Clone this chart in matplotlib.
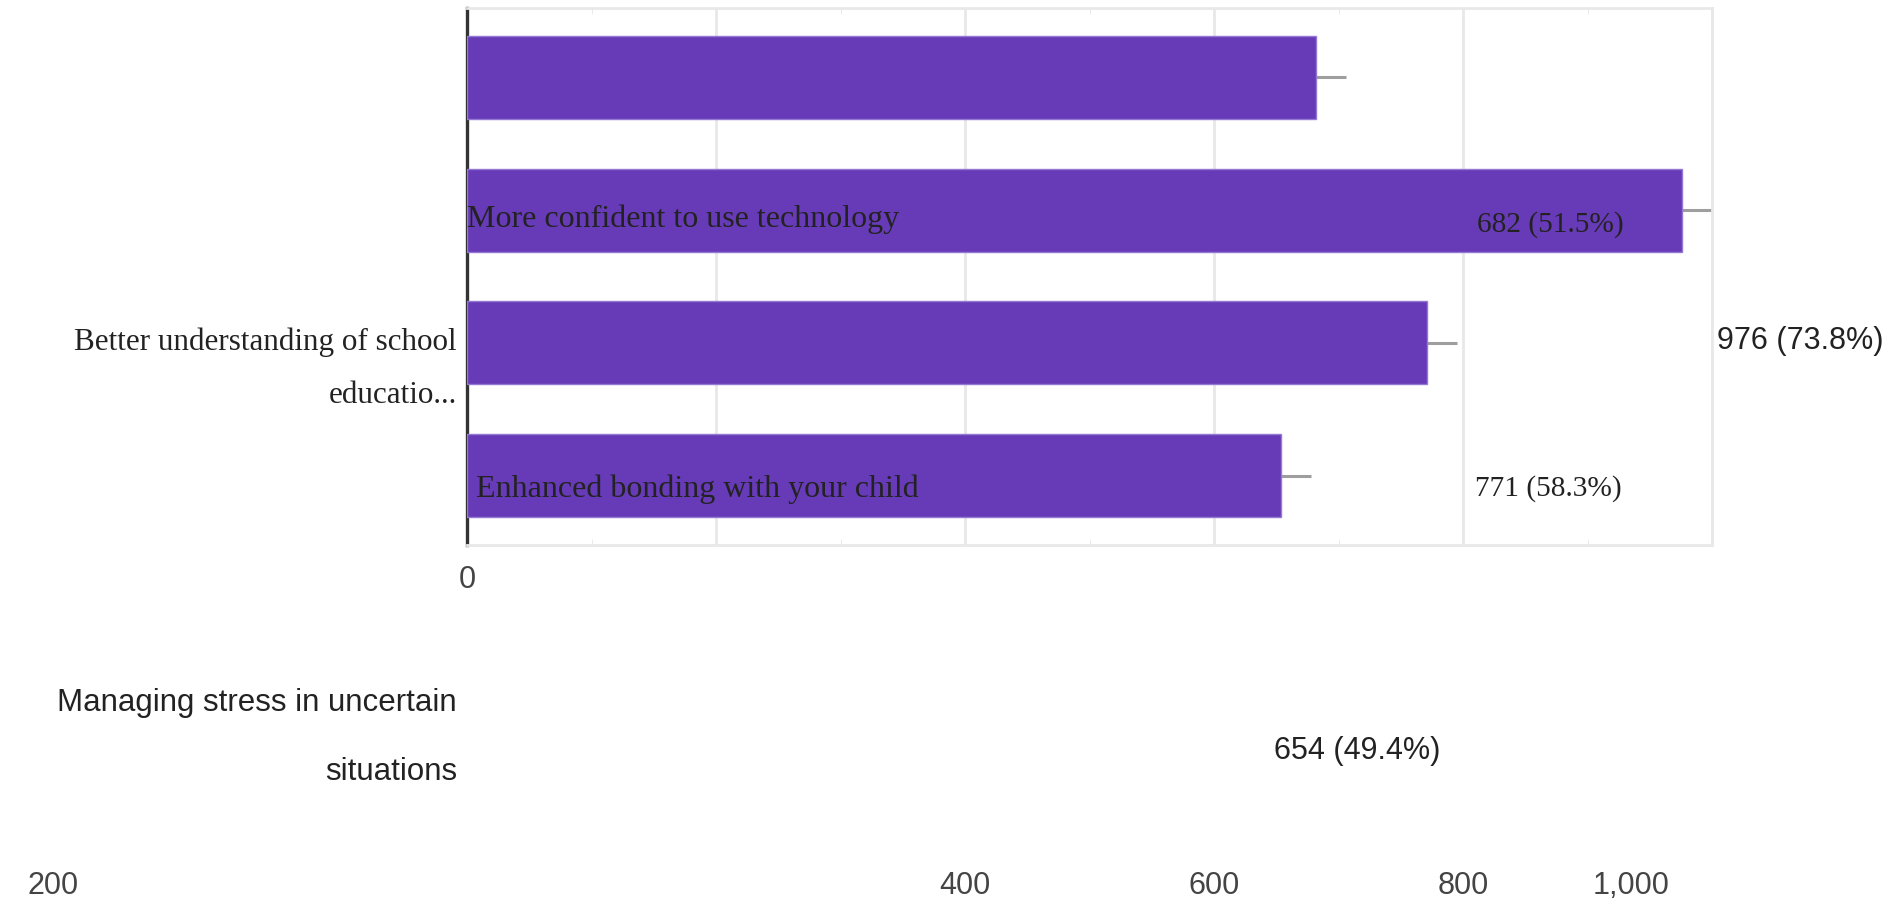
import matplotlib.pyplot as plt
import numpy as np

# Daten (von oben nach unten)
categories = ['More confident to use technology',
              'Better understanding of school\neducatio...',
              'Enhanced bonding with your child',
              'Managing stress in uncertain\nsituations']
counts = [682, 976, 771, 654]
percents = [51.5, 73.8, 58.3, 49.4]
err_upper = [24, 24, 24, 24]
x_ticks = [0, 200, 400, 600, 800, 1000]
tick_labels = ['0', '200', '400', '600', '800', '1,000']

# Layout in Pixeln des Originals
W, H = 1901, 904
BAR_COLOR = '#673AB7'
TEXT_COLOR = '#222222'
TICK_COLOR = '#444444'
SERIF = ['Liberation Serif', 'DejaVu Serif']
SANS = ['Liberation Sans', 'DejaVu Sans']


def fx(x):
    return x / W


def fy(y):
    return 1 - y / H


fig = plt.figure(figsize=(W / 100, H / 100), dpi=100)
fig.patch.set_facecolor('white')
ax = fig.add_axes([fx(467), fy(546), fx(1712) - fx(467), fy(9) - fy(546)])

y = np.arange(len(categories))
ax.barh(y, counts, height=0.624, color=BAR_COLOR, edgecolor='#9479d4',
        linewidth=1, zorder=3)
ax.errorbar(counts, y, xerr=[np.zeros(len(counts)), err_upper], fmt='none',
            ecolor='#9e9e9e', elinewidth=2.2, capsize=0, zorder=2)

ax.set_xlim(0, 1000)
ax.set_ylim(len(categories) - 0.48, -0.52)
ax.set_xticks(x_ticks)
ax.set_xticklabels([])
ax.set_xticks(np.arange(100, 1000, 200), minor=True)
ax.set_yticks([])
ax.tick_params(axis='x', which='major', length=0)
ax.tick_params(axis='x', which='minor', length=4, direction='in',
               color='#e6e6e6', top=True, bottom=True)
ax.grid(axis='x', color='#e8e8e8', linewidth=2)
ax.set_axisbelow(True)

for side in ['top', 'bottom', 'right']:
    ax.spines[side].set_color('#e8e8e8')
    ax.spines[side].set_linewidth(2)
ax.spines['left'].set_color('#333333')
ax.spines['left'].set_linewidth(2.4)

# Kategorien (verschoben wie im Original), jede Zeile einzeln
cat_pos = [(467, [219], 'left'), (457, [342, 396], 'right'),
           (476, [489], 'left'), (457, [703, 772], 'right')]
cat_fonts = [(SERIF, 23), (SERIF, 22.4), (SERIF, 23), (SANS, 22.5)]
for label, (px, rows, ha), (fam, fs) in zip(categories, cat_pos, cat_fonts):
    for line, py in zip(label.split('\n'), rows):
        fig.text(fx(px), fy(py), line, ha=ha, va='center', family=fam,
                 fontsize=fs, color=TEXT_COLOR)

# Werte
val_pos = [(1477, 225), (1717, 341), (1475, 489), (1274, 751)]
val_fonts = [(SERIF, 21.2), (SANS, 22), (SERIF, 21.2), (SANS, 22)]
for c, p, (px, py), (fam, fs) in zip(counts, percents, val_pos, val_fonts):
    fig.text(fx(px), fy(py), f'{c} ({p}%)', ha='left', va='center',
             family=fam, fontsize=fs, color=TEXT_COLOR)

# Achsenbeschriftung
tick_y = {'0': 580, '400': 886, '600': 886, '800': 886}
for v, lab in zip(x_ticks, tick_labels):
    if lab in tick_y:
        ax.text(v, (546 - tick_y[lab]) / 537, lab, transform=ax.get_xaxis_transform(),
                ha='center', va='center', family=SANS, fontsize=22, color=TICK_COLOR)
fig.text(fx(53), fy(886), tick_labels[1], ha='center', va='center',
         family=SANS, fontsize=22, color=TICK_COLOR)
fig.text(fx(1631), fy(886), tick_labels[5], ha='center', va='center',
         family=SANS, fontsize=22, color=TICK_COLOR)

fig.savefig('out.png', dpi=100, facecolor='white')
